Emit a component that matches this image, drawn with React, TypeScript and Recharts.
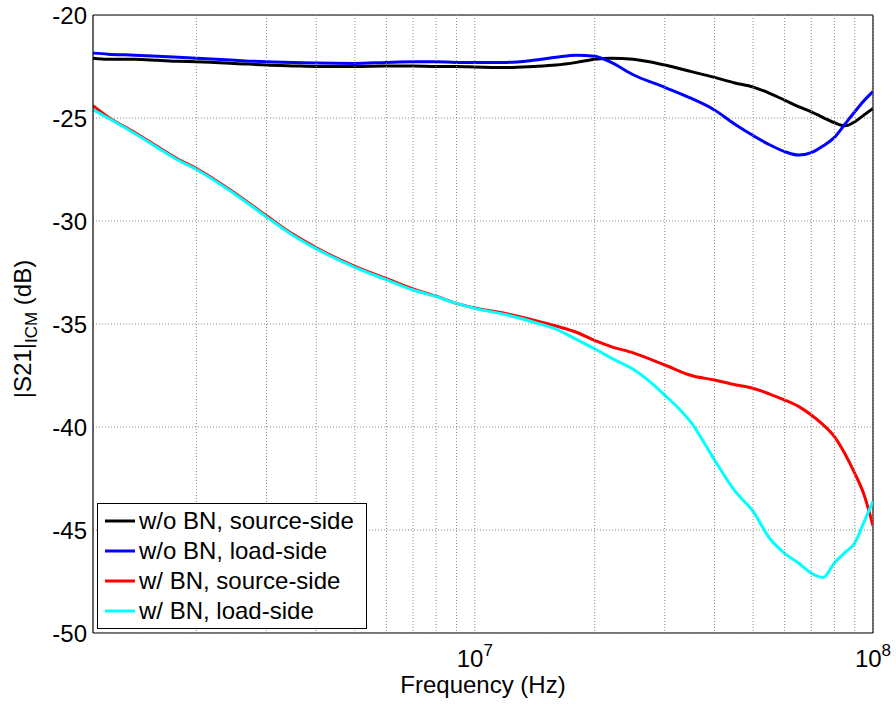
import React from "react";
import {
  LineChart,
  Line,
  XAxis,
  YAxis,
  Legend,
  ReferenceLine,
} from "recharts";

const FONT = "Arial, 'Liberation Sans', sans-serif";

// frequency points (Hz)
const freqs = [
  1.1e6, 1.2e6, 1.4e6, 1.6e6, 1.8e6, 2e6, 2.5e6, 3e6, 3.5e6, 4e6, 5e6, 6e6, 7e6, 8e6, 9e6,
  1e7, 1.2e7, 1.4e7, 1.6e7, 1.8e7, 2e7, 2.2e7, 2.5e7, 3e7, 3.5e7, 4e7, 4.5e7, 5e7, 5.5e7,
  6e7, 6.5e7, 7e7, 7.5e7, 8e7, 8.5e7, 9e7, 9.5e7, 1e8,
];

const woBnSource = [
  -22.1, -22.15, -22.15, -22.2, -22.25, -22.27, -22.35, -22.43, -22.47, -22.5, -22.5, -22.48,
  -22.48, -22.5, -22.5, -22.52, -22.55, -22.5, -22.43, -22.3, -22.15, -22.1, -22.15, -22.43,
  -22.75, -23.03, -23.3, -23.5, -23.8, -24.13, -24.45, -24.7, -24.98, -25.23, -25.38, -25.18,
  -24.85, -24.53,
];

const woBnLoad = [
  -21.85, -21.9, -21.95, -22.0, -22.05, -22.1, -22.2, -22.27, -22.3, -22.33, -22.35, -22.3,
  -22.27, -22.27, -22.3, -22.3, -22.3, -22.2, -22.05, -21.95, -22.0, -22.3, -22.9, -23.51,
  -24.05, -24.61, -25.3, -25.85, -26.3, -26.63, -26.8, -26.68, -26.35, -25.94, -25.3, -24.7,
  -24.15, -23.72,
];

const wBnSource = [
  -24.4, -24.95, -25.7, -26.4, -27.0, -27.45, -28.65, -29.75, -30.65, -31.3, -32.2, -32.8,
  -33.3, -33.65, -34.0, -34.22, -34.5, -34.8, -35.1, -35.4, -35.8, -36.1, -36.4, -36.99,
  -37.5, -37.72, -37.95, -38.12, -38.4, -38.69, -39.0, -39.42, -39.9, -40.47, -41.3, -42.25,
  -43.3, -44.8,
];

const wBnLoad = [
  -24.6, -25.0, -25.75, -26.45, -27.05, -27.5, -28.7, -29.8, -30.7, -31.35, -32.25, -32.85,
  -33.35, -33.67, -34.0, -34.24, -34.55, -34.9, -35.25, -35.75, -36.2, -36.65, -37.2, -38.45,
  -39.8, -41.6, -43.1, -44.1, -45.4, -46.13, -46.6, -47.1, -47.3, -46.6, -46.1, -45.63,
  -44.6, -43.6,
];

const seriesNames = [
  "w/o BN, source-side",
  "w/o BN, load-side",
  "w/ BN, source-side",
  "w/ BN, load-side",
];
const seriesColors = ["#000000", "#0000ff", "#ff0000", "#00ffff"];

const xTicks = [
  2e6, 3e6, 4e6, 5e6, 6e6, 7e6, 8e6, 9e6, 1e7, 2e7, 3e7, 4e7, 5e7, 6e7, 7e7, 8e7, 9e7, 1e8,
];
const xLabelled: Record<number, string> = { 10000000: "7", 100000000: "8" };
const yTicks = [-50, -45, -40, -35, -30, -25, -20];

const data = freqs.map((f, i) => ({
  f,
  s0: woBnSource[i],
  s1: woBnLoad[i],
  s2: wBnSource[i],
  s3: wBnLoad[i],
}));

const GRID = "#8c8c8c";
const PLOT_TOP = 15;
const PLOT_BOTTOM = 633;

// x tick: dotted grid line across the plot at every decade subdivision, label only at decades
const XTick = (props: any) => {
  const { x, y, payload } = props;
  const exp = xLabelled[payload.value];
  return (
    <g>
      <line
        x1={x}
        x2={x}
        y1={PLOT_TOP}
        y2={PLOT_BOTTOM}
        stroke={GRID}
        strokeWidth={1}
        strokeDasharray="1 2"
      />
      {exp ? (
        <text x={x} y={y + 26} textAnchor="middle" fontSize={24} fontFamily={FONT} fill="#000">
          <tspan>10</tspan>
          <tspan dy={-11} fontSize={17}>
            {exp}
          </tspan>
        </text>
      ) : null}
    </g>
  );
};

const YLabel = () => (
  <text
    x={31}
    y={329}
    transform="rotate(-90, 31, 329)"
    textAnchor="middle"
    fontSize={24}
    fontFamily={FONT}
    fill="#000"
  >
    <tspan>|S21|</tspan>
    <tspan dy={6} fontSize={17}>
      ICM
    </tspan>
    <tspan dy={-6}> (dB)</tspan>
  </text>
);

const LegendBox = (props: any) => {
  const items = [...(props.payload || [])].sort(
    (a: any, b: any) => seriesNames.indexOf(a.value) - seriesNames.indexOf(b.value)
  );
  return (
    <div
      style={{
        width: 270,
        height: 126,
        boxSizing: "border-box",
        border: "1.5px solid #000",
        background: "#fff",
        paddingTop: 2,
        paddingLeft: 7,
        fontFamily: FONT,
        fontSize: 24,
        color: "#000",
      }}
    >
      {items.map((p: any) => (
        <div key={p.value} style={{ display: "flex", alignItems: "center", height: 30 }}>
          <svg width={30} height={6} style={{ marginRight: 4 }}>
            <line x1={0} y1={3} x2={30} y2={3} stroke={p.color} strokeWidth={3} />
          </svg>
          <span style={{ lineHeight: "30px", whiteSpace: "nowrap" }}>{p.value}</span>
        </div>
      ))}
    </div>
  );
};

export default function App() {
  return (
    <div style={{ position: "absolute", left: 0, top: 0, background: "#fff", fontFamily: FONT }}>
      <LineChart
        width={896}
        height={705}
        data={data}
        margin={{ top: 15, right: 23, left: 0, bottom: 0 }}
      >
        {yTicks.map((t) => (
          <ReferenceLine
            key={"y" + t}
            y={t}
            stroke={GRID}
            strokeWidth={1}
            strokeDasharray="1 2"
            ifOverflow="hidden"
          />
        ))}
        {/* box: top and right edges */}
        <ReferenceLine y={-20} stroke="#000" strokeWidth={1.2} />
        <ReferenceLine x={1e8} stroke="#000" strokeWidth={1.2} />
        <XAxis
          dataKey="f"
          type="number"
          scale="log"
          domain={[1.1e6, 1e8]}
          allowDataOverflow
          ticks={xTicks}
          interval={0}
          tick={<XTick />}
          tickLine={false}
          tickSize={6}
          tickMargin={2}
          height={72}
          axisLine={{ stroke: "#000", strokeWidth: 1.2 }}
          label={{
            value: "Frequency (Hz)",
            position: "insideBottom",
            offset: 12,
            fontSize: 24,
            fontFamily: FONT,
            fill: "#000",
          }}
        />
        <YAxis
          type="number"
          domain={[-50, -20]}
          ticks={yTicks}
          interval={0}
          tickLine={false}
          tickSize={6}
          tickMargin={0}
          width={93}
          axisLine={{ stroke: "#000", strokeWidth: 1.2 }}
          tick={{ fontSize: 24, fontFamily: FONT, fill: "#000" }}
          label={{ content: <YLabel /> }}
        />
        <Legend
          layout="vertical"
          align="center"
          verticalAlign="middle"
          content={<LegendBox />}
          wrapperStyle={{ left: 97, top: 503, width: 270, height: 126 }}
        />
        {["s0", "s1", "s2", "s3"].map((k, i) => (
          <Line
            key={k}
            dataKey={k}
            name={seriesNames[i]}
            stroke={seriesColors[i]}
            strokeWidth={3}
            type="monotone"
            dot={false}
            activeDot={false}
            isAnimationActive={false}
          />
        ))}
      </LineChart>
    </div>
  );
}
